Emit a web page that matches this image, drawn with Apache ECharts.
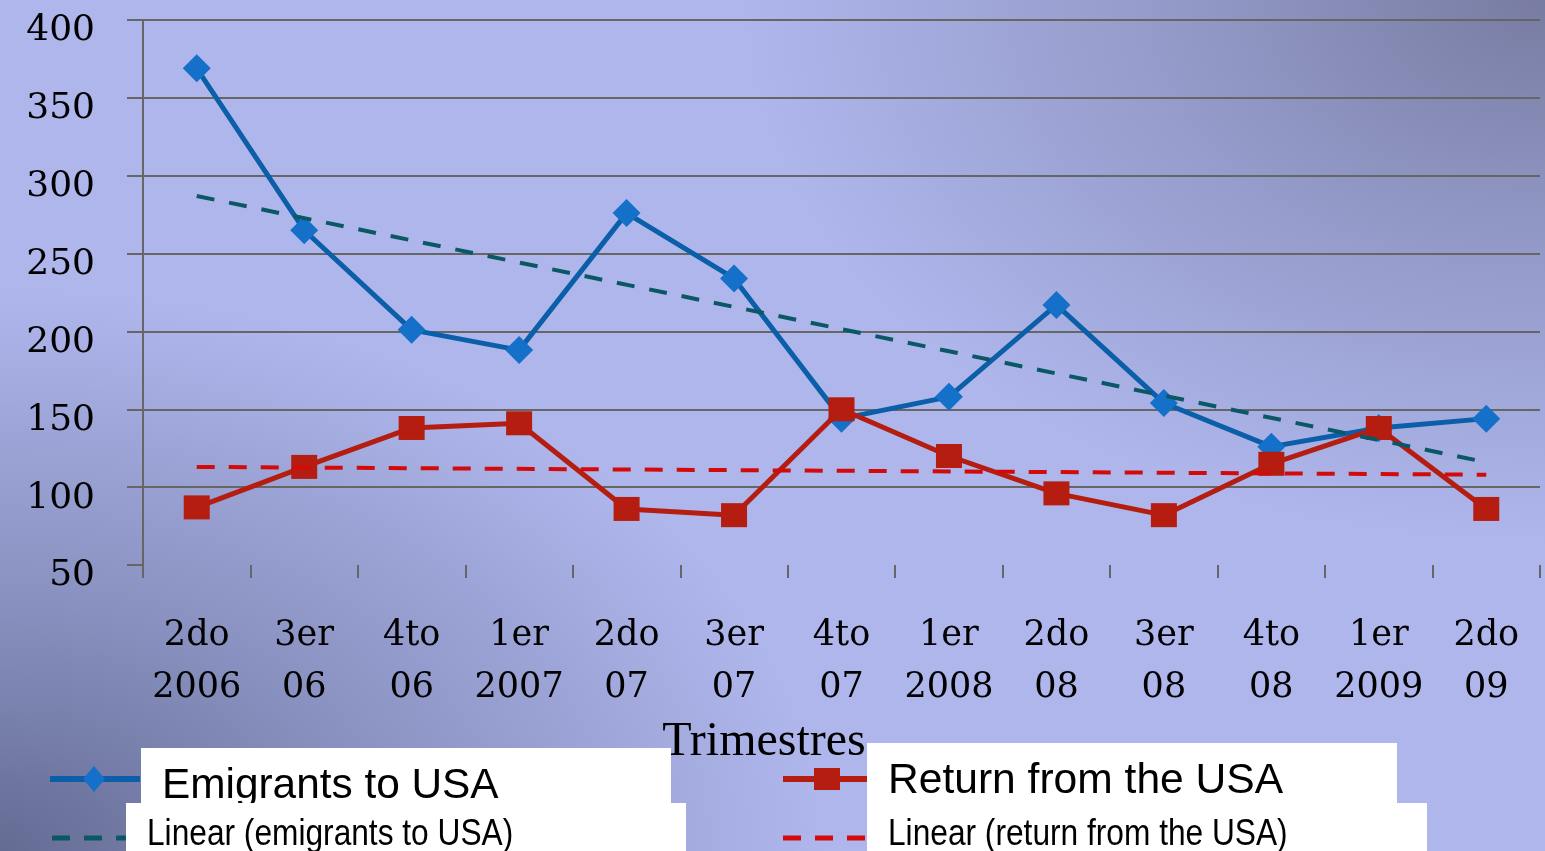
<!DOCTYPE html>
<html>
<head>
<meta charset="utf-8">
<title>Emigrants to USA / Return from the USA</title>
<script src="https://cdn.jsdelivr.net/npm/echarts@6/dist/echarts.min.js"></script>
<style>
  html, body { margin: 0; padding: 0; }
  #chart {
    width: 1545px;
    height: 851px;
    background:
      radial-gradient(ellipse 800px 540px at 100% 0%, rgba(120,124,162,1) 0%, rgba(120,124,162,0.5) 45%, rgba(120,124,162,0) 100%),
      radial-gradient(ellipse 820px 560px at 0% 100%, rgba(100,108,148,1) 0%, rgba(100,108,148,0.5) 45%, rgba(100,108,148,0) 100%),
      #aeb6ec;
  }
</style>
</head>
<body>
<div id="chart"></div>
<script>
// Quarterly series
const categories = [
  '2do\n2006', '3er\n06', '4to\n06', '1er\n2007', '2do\n07', '3er\n07', '4to\n07',
  '1er\n2008', '2do\n08', '3er\n08', '4to\n08', '1er\n2009', '2do\n09'
];
const emigrants = [369, 265, 201, 188, 276, 234, 144, 158, 217, 154, 126, 138, 144];
const returns = [87, 113, 138, 141, 86, 82, 150, 120, 96, 82, 115, 138, 86];
// Linear trend lines: value at first and last quarter
const emigrantsTrend = [287, null, null, null, null, null, null, null, null, null, null, null, 116];
const returnsTrend = [113, null, null, null, null, null, null, null, null, null, null, null, 108];
const yTicks = { min: 50, max: 400, interval: 50 };
const seriesNames = ['Emigrants to USA', 'Return from the USA', 'Linear (emigrants to USA)', 'Linear (return from the USA)'];
const axisName = 'Trimestres';

const BLUE_LINE = '#0b5ea8';
const BLUE_MARK = '#1470c8';
const RED = '#b51d10';
const TEAL = '#0a5866';
const RED_DASH = '#d20a0a';
const GRID = '#666666';

const chart = echarts.init(document.getElementById('chart'), null, { renderer: 'canvas' });

// legend caption (baseline-positioned sans text)
const sansText = (x, baseline, text, size, sx, z) => ({
  type: 'text', x: x, y: baseline + Math.round(size * 0.21), scaleX: sx, z: z,
  style: { text: text, fill: '#000', font: size + 'px "Liberation Sans", Arial, sans-serif', textVerticalAlign: 'bottom' }
});

chart.setOption({
  backgroundColor: 'transparent',
  animation: false,
  grid: { left: 143, right: 5, top: 20, bottom: 286 },
  xAxis: {
    type: 'category',
    data: categories,
    boundaryGap: true,
    axisLine: { show: false },
    axisTick: { show: true, length: 13, lineStyle: { color: GRID, width: 2 } },
    axisLabel: {
      interval: 0, margin: 45, color: '#000',
      fontFamily: '"DejaVu Serif", serif', fontSize: 35, lineHeight: 52
    },
    splitLine: { show: false }
  },
  yAxis: {
    type: 'value',
    min: yTicks.min, max: yTicks.max, interval: yTicks.interval,
    axisLine: { show: true, lineStyle: { color: GRID, width: 2 } },
    axisTick: { show: true, length: 16, lineStyle: { color: GRID, width: 2 } },
    axisLabel: {
      margin: 48, color: '#000', verticalAlign: 'top', lineHeight: 22,
      fontFamily: '"DejaVu Serif", serif', fontSize: 36
    },
    splitLine: { show: true, showMinLine: false, lineStyle: { color: GRID, width: 2 } }
  },
  series: [
    {
      name: seriesNames[0], type: 'line', data: emigrants,
      symbol: 'diamond', symbolSize: 28,
      lineStyle: { color: BLUE_LINE, width: 5 },
      itemStyle: { color: BLUE_MARK },
      z: 3
    },
    {
      name: seriesNames[1], type: 'line', data: returns,
      symbol: 'rect', symbolSize: [26, 24],
      lineStyle: { color: RED, width: 5 },
      itemStyle: { color: RED },
      z: 4
    },
    {
      name: seriesNames[2], type: 'line', data: emigrantsTrend, connectNulls: true,
      symbol: 'none',
      lineStyle: { color: TEAL, width: 4, type: [18, 15] },
      z: 5
    },
    {
      name: seriesNames[3], type: 'line', data: returnsTrend, connectNulls: true,
      symbol: 'none',
      lineStyle: { color: RED_DASH, width: 4, type: [18, 14] },
      z: 6
    }
  ],
  graphic: [
    // axis title
    {
      type: 'text', x: 764, y: 766, z: 5,
      style: { text: axisName, fill: '#000', font: '48px "Liberation Serif", "Times New Roman", serif', textAlign: 'center', textVerticalAlign: 'bottom' }
    },
    // legend keys
    { type: 'line', shape: { x1: 50, y1: 779, x2: 140, y2: 779 }, style: { stroke: BLUE_LINE, lineWidth: 6 }, z: 10 },
    { type: 'polygon', shape: { points: [[94, 766], [105, 779], [94, 792], [83, 779]] }, style: { fill: BLUE_MARK }, z: 11 },
    { type: 'line', shape: { x1: 52, y1: 838, x2: 128, y2: 838 }, style: { stroke: TEAL, lineWidth: 5, lineDash: [18, 14] }, z: 10 },
    { type: 'line', shape: { x1: 783, y1: 779, x2: 868, y2: 779 }, style: { stroke: RED, lineWidth: 6 }, z: 10 },
    { type: 'rect', shape: { x: 814, y: 768, width: 26, height: 22 }, style: { fill: RED }, z: 11 },
    { type: 'line', shape: { x1: 783, y1: 838, x2: 868, y2: 838 }, style: { stroke: RED_DASH, lineWidth: 5, lineDash: [18, 14] }, z: 10 },
    // legend caption boxes
    { type: 'rect', shape: { x: 141, y: 748, width: 530, height: 55 }, style: { fill: '#ffffff' }, z: 12 },
    sansText(162, 799, seriesNames[0], 43, 0.985, 13),
    { type: 'rect', shape: { x: 126, y: 803, width: 560, height: 48 }, style: { fill: '#ffffff' }, z: 22 },
    sansText(147, 845, seriesNames[2], 36, 0.88, 23),
    { type: 'rect', shape: { x: 867, y: 743, width: 530, height: 60 }, style: { fill: '#ffffff' }, z: 12 },
    sansText(888, 794, seriesNames[1], 43, 0.99, 13),
    { type: 'rect', shape: { x: 867, y: 803, width: 560, height: 48 }, style: { fill: '#ffffff' }, z: 22 },
    sansText(888, 845, seriesNames[3], 36, 0.88, 23)
  ]
});
</script>
</body>
</html>
